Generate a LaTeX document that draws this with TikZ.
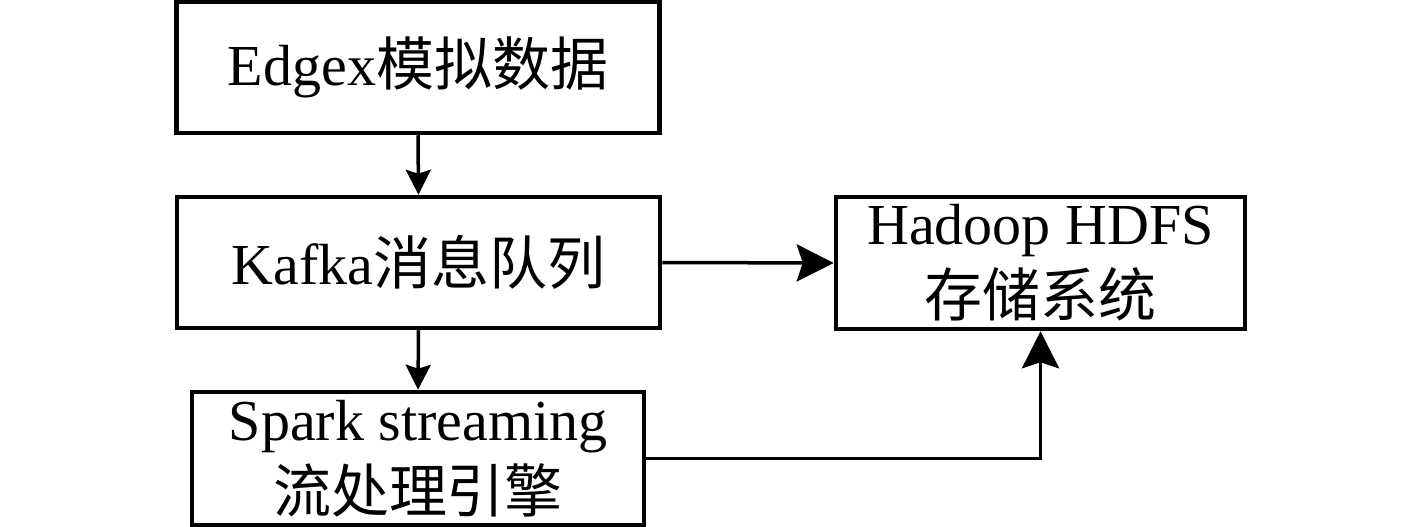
\documentclass[tikz,border=0pt]{standalone}
\usepackage{fontspec}
\setmainfont{Liberation Serif}
\newfontfamily\cjk{Noto Sans CJK SC}
\usetikzlibrary{arrows.meta}

\begin{document}
\begin{tikzpicture}[
    stageBox/.style={draw, line width=0.09cm, minimum height=2.62cm, inner sep=0pt, align=center},
    flowLine/.style={line width=0.07cm},
    bigTip/.style={-{Stealth[length=0.74cm, width=0.74cm, inset=0.12cm]}},
    smallTip/.style={-{Stealth[length=0.5cm, width=0.5cm, inset=0.08cm]}},
    every node/.style={
        font=\fontsize{33}{41}\selectfont,
        text centered,
        }
        ]
    \useasboundingbox (0, 0) rectangle (28.34, -10.54);

    \node[stageBox, minimum width=9.66cm] (edgex) at (8.36, -1.35) {Edgex{\cjk 模拟数据}};
    \node[stageBox, minimum width=9.66cm] (kafka) at (8.37, -5.25) {Kafka{\cjk 消息队列}};
    \node[stageBox, minimum width=9.04cm, minimum height=2.66cm] (spark) at (8.36, -9.17) {Spark streaming\\{\cjk 流处理引擎}};
    \node[stageBox, minimum width=8.18cm, minimum height=2.64cm] (hdfs) at (20.81, -5.26) {Hadoop HDFS\\{\cjk 存储系统}};

    \draw[flowLine, smallTip] (edgex.south) -- (kafka.north);
    \draw[flowLine, smallTip] (kafka.south) -- (spark.north);
    \draw[flowLine, bigTip] (kafka.east) -- (hdfs.west);
    \draw[flowLine, bigTip] (spark.east) -- (spark.east -| hdfs.south) -- (hdfs.south);
\end{tikzpicture}
\end{document}
